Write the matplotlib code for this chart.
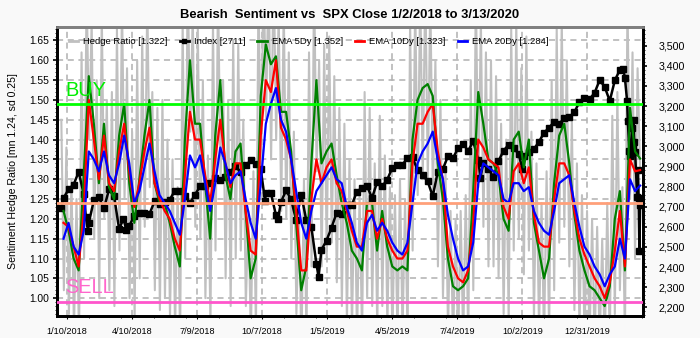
import matplotlib
matplotlib.use('Agg')
import matplotlib.pyplot as plt
from matplotlib.lines import Line2D
from matplotlib.ticker import MultipleLocator, FuncFormatter
import matplotlib.dates as mdates
import pandas as pd

plt.rcParams['font.family'] = ['Liberation Sans', 'DejaVu Sans']

# daily hedge ratio (sampled ~2x per week)
hedge_ratio = [
    1.45, 1.02, 1.38, 0.96, 1.30, 0.92, 1.25, 0.90, 1.62, 1.10,
    1.78, 1.40, 1.70, 1.15, 1.55, 1.00, 1.72, 1.20, 1.50, 1.02,
    1.52, 0.98, 1.68, 1.12, 1.75, 1.25, 1.58, 1.00, 1.42, 0.95,
    1.60, 1.05, 1.66, 1.18, 1.76, 1.28, 1.52, 1.02, 1.48, 0.97,
    1.50, 1.00, 1.40, 0.95, 1.35, 0.92, 1.28, 0.90, 1.70, 1.10,
    1.80, 1.42, 1.72, 1.18, 1.68, 1.15, 1.55, 1.00, 1.36, 0.93,
    1.70, 1.12, 1.78, 1.30, 1.55, 1.05, 1.50, 0.98, 1.65, 1.10,
    1.64, 1.12, 1.45, 0.98, 1.22, 0.90, 1.32, 0.92, 1.78, 1.30,
    1.85, 1.45, 1.82, 1.35, 1.84, 1.40, 1.72, 1.22, 1.74, 1.20,
    1.62, 1.10, 1.42, 0.96, 1.20, 0.88, 1.30, 0.90, 1.62, 1.08,
    1.80, 1.32, 1.60, 1.08, 1.64, 1.10, 1.66, 1.14, 1.56, 1.04,
    1.48, 0.98, 1.44, 0.94, 1.35, 0.92, 1.30, 0.90, 1.26, 0.90,
    1.52, 1.00, 1.48, 0.98, 1.34, 0.92, 1.46, 0.98, 1.36, 0.93,
    1.28, 0.90, 1.26, 0.90, 1.30, 0.91, 1.25, 0.90, 1.70, 1.12,
    1.76, 1.26, 1.78, 1.30, 1.80, 1.30, 1.76, 1.26, 1.60, 1.08,
    1.50, 1.00, 1.32, 0.92, 1.22, 0.88, 1.20, 0.88, 1.22, 0.89,
    1.26, 0.90, 1.55, 1.02, 1.78, 1.28, 1.70, 1.18, 1.62, 1.08,
    1.60, 1.08, 1.56, 1.05, 1.44, 0.96, 1.40, 0.94, 1.68, 1.12,
    1.70, 1.15, 1.58, 1.06, 1.66, 1.12, 1.42, 0.95, 1.34, 0.92,
    1.24, 0.89, 1.32, 0.91, 1.55, 1.02, 1.68, 1.14, 1.70, 1.18,
    1.60, 1.08, 1.45, 0.97, 1.34, 0.92, 1.26, 0.90, 1.22, 0.89,
    1.20, 0.88, 1.18, 0.88, 1.15, 0.87, 1.24, 0.88, 1.46, 0.96,
    1.52, 1.02, 1.28, 0.90, 1.75, 1.25, 1.62, 1.10, 1.58, 1.322,
]

# weekly readings of the moving averages
ema_5 = [
    1.22, 1.17, 1.10, 1.07, 1.31, 1.56, 1.44, 1.29, 1.44, 1.28,
    1.25, 1.41, 1.49, 1.29, 1.19, 1.30, 1.41, 1.50, 1.29, 1.24,
    1.24, 1.19, 1.13, 1.08, 1.40, 1.60, 1.44, 1.44, 1.29, 1.15,
    1.41, 1.55, 1.31, 1.25, 1.37, 1.39, 1.22, 1.05, 1.10, 1.51,
    1.64, 1.59, 1.61, 1.47, 1.47, 1.37, 1.19, 1.02, 1.08, 1.34,
    1.55, 1.34, 1.37, 1.39, 1.31, 1.24, 1.19, 1.12, 1.10, 1.07,
    1.24, 1.24, 1.12, 1.22, 1.13, 1.08, 1.07, 1.08, 1.07, 1.40,
    1.50, 1.53, 1.54, 1.51, 1.34, 1.25, 1.10, 1.03, 1.02, 1.03,
    1.05, 1.27, 1.52, 1.44, 1.35, 1.34, 1.31, 1.20, 1.17, 1.40,
    1.42, 1.33, 1.40, 1.19, 1.12, 1.05, 1.10, 1.29, 1.41, 1.44,
    1.34, 1.21, 1.12, 1.07, 1.03, 1.02, 1.00, 0.98, 1.03, 1.20,
    1.27, 1.07, 1.48, 1.37, 1.352,
]
ema_10 = [
    1.19, 1.18, 1.13, 1.08, 1.22, 1.50, 1.40, 1.30, 1.41, 1.29,
    1.27, 1.37, 1.44, 1.32, 1.23, 1.29, 1.37, 1.43, 1.29, 1.25,
    1.22, 1.20, 1.15, 1.12, 1.31, 1.47, 1.40, 1.40, 1.31, 1.24,
    1.35, 1.45, 1.34, 1.28, 1.34, 1.34, 1.22, 1.12, 1.11, 1.41,
    1.55, 1.52, 1.60, 1.43, 1.40, 1.35, 1.22, 1.07, 1.07, 1.25,
    1.35, 1.29, 1.33, 1.35, 1.29, 1.27, 1.22, 1.17, 1.13, 1.13,
    1.22, 1.22, 1.15, 1.20, 1.15, 1.12, 1.10, 1.10, 1.12, 1.34,
    1.44, 1.44, 1.47, 1.49, 1.37, 1.30, 1.13, 1.08, 1.05, 1.04,
    1.07, 1.19, 1.40, 1.38, 1.35, 1.34, 1.33, 1.23, 1.20, 1.32,
    1.34, 1.29, 1.33, 1.21, 1.14, 1.13, 1.13, 1.25, 1.34, 1.34,
    1.31, 1.22, 1.15, 1.11, 1.08, 1.05, 1.03, 1.00, 1.04, 1.12,
    1.22, 1.08, 1.35, 1.32, 1.323,
]
ema_20 = [
    1.15, 1.19, 1.13, 1.11, 1.17, 1.37, 1.35, 1.32, 1.37, 1.31,
    1.29, 1.34, 1.41, 1.34, 1.24, 1.27, 1.33, 1.39, 1.32, 1.26,
    1.24, 1.22, 1.19, 1.16, 1.25, 1.36, 1.33, 1.36, 1.29, 1.22,
    1.29, 1.38, 1.34, 1.29, 1.31, 1.32, 1.25, 1.19, 1.15, 1.29,
    1.44, 1.49, 1.53, 1.45, 1.42, 1.35, 1.27, 1.19, 1.15, 1.22,
    1.27, 1.29, 1.31, 1.33, 1.30, 1.29, 1.23, 1.19, 1.14, 1.12,
    1.19, 1.21, 1.17, 1.19, 1.17, 1.14, 1.12, 1.11, 1.14, 1.24,
    1.34, 1.37, 1.39, 1.42, 1.35, 1.30, 1.21, 1.15, 1.10, 1.07,
    1.08, 1.14, 1.29, 1.34, 1.33, 1.32, 1.31, 1.25, 1.24, 1.29,
    1.29, 1.27, 1.28, 1.22, 1.19, 1.17, 1.16, 1.22, 1.29, 1.30,
    1.31, 1.24, 1.18, 1.13, 1.11, 1.08, 1.06, 1.03, 1.06, 1.08,
    1.15, 1.10, 1.30, 1.27, 1.284,
]

spx_dates = [
    '2018-01-02', '2018-01-05', '2018-01-12', '2018-01-19', '2018-01-26', '2018-02-02',
    '2018-02-05', '2018-02-08', '2018-02-09', '2018-02-16', '2018-02-23', '2018-03-02',
    '2018-03-09', '2018-03-16', '2018-03-23', '2018-03-29', '2018-04-02', '2018-04-06',
    '2018-04-13', '2018-04-20', '2018-04-27', '2018-05-04', '2018-05-11', '2018-05-18',
    '2018-05-25', '2018-06-01', '2018-06-08', '2018-06-15', '2018-06-22', '2018-06-29',
    '2018-07-06', '2018-07-13', '2018-07-20', '2018-07-27', '2018-08-03', '2018-08-10',
    '2018-08-17', '2018-08-24', '2018-08-31', '2018-09-07', '2018-09-14', '2018-09-21',
    '2018-09-28', '2018-10-05', '2018-10-11', '2018-10-12', '2018-10-19', '2018-10-26',
    '2018-10-29', '2018-11-02', '2018-11-09', '2018-11-16', '2018-11-23', '2018-11-30',
    '2018-12-07', '2018-12-14', '2018-12-21', '2018-12-24', '2018-12-28', '2019-01-04',
    '2019-01-11', '2019-01-18', '2019-01-25', '2019-02-01', '2019-02-08', '2019-02-15',
    '2019-02-22', '2019-03-01', '2019-03-08', '2019-03-15', '2019-03-22', '2019-03-29',
    '2019-04-05', '2019-04-12', '2019-04-18', '2019-04-26', '2019-05-03', '2019-05-10',
    '2019-05-17', '2019-05-24', '2019-05-31', '2019-06-07', '2019-06-14', '2019-06-21',
    '2019-06-28', '2019-07-05', '2019-07-12', '2019-07-19', '2019-07-26', '2019-08-02',
    '2019-08-05', '2019-08-09', '2019-08-16', '2019-08-23', '2019-08-30', '2019-09-06',
    '2019-09-13', '2019-09-20', '2019-09-27', '2019-10-02', '2019-10-04', '2019-10-11',
    '2019-10-18', '2019-10-25', '2019-11-01', '2019-11-08', '2019-11-15', '2019-11-22',
    '2019-11-29', '2019-12-06', '2019-12-13', '2019-12-20', '2019-12-27', '2020-01-03',
    '2020-01-10', '2020-01-17', '2020-01-24', '2020-01-31', '2020-02-07', '2020-02-14',
    '2020-02-19', '2020-02-21', '2020-02-24', '2020-02-25', '2020-02-27', '2020-02-28',
    '2020-03-02', '2020-03-03', '2020-03-04', '2020-03-05', '2020-03-06', '2020-03-09',
    '2020-03-10', '2020-03-11', '2020-03-12', '2020-03-13',
]
spx_close = [
    2695.81, 2743.15, 2786.24, 2810.30, 2872.87, 2762.13,
    2648.94, 2581.00, 2619.55, 2732.22, 2747.30, 2691.25,
    2786.57, 2752.01, 2588.26, 2640.87, 2581.88, 2604.47,
    2656.30, 2670.14, 2669.91, 2663.42, 2727.72, 2712.97,
    2721.33, 2734.62, 2779.03, 2779.66, 2754.88, 2718.37,
    2759.82, 2801.31, 2801.83, 2818.82, 2840.35, 2833.28,
    2850.13, 2874.69, 2901.52, 2871.68, 2904.98, 2929.67,
    2913.98, 2885.57, 2728.37, 2767.13, 2767.78, 2658.69,
    2641.25, 2723.06, 2781.01, 2736.27, 2632.56, 2760.17,
    2633.08, 2599.95, 2416.62, 2351.10, 2485.74, 2531.94,
    2596.26, 2670.71, 2664.76, 2706.53, 2707.88, 2775.60,
    2792.67, 2803.69, 2743.07, 2822.48, 2800.71, 2834.40,
    2892.74, 2907.41, 2905.03, 2939.88, 2945.64, 2881.40,
    2859.53, 2826.06, 2752.06, 2873.34, 2886.98, 2950.46,
    2941.76, 2990.41, 3013.77, 2976.61, 3025.86, 2932.05,
    2844.74, 2918.65, 2888.68, 2847.11, 2926.46, 2978.71,
    3007.39, 2992.07, 2961.79, 2887.61, 2952.01, 2970.27,
    2986.20, 3022.55, 3066.91, 3093.08, 3120.46, 3110.29,
    3140.98, 3145.91, 3168.79, 3221.22, 3240.02, 3234.85,
    3265.35, 3329.62, 3295.47, 3225.52, 3327.71, 3380.16,
    3386.15, 3337.75, 3225.89, 3128.21, 2978.76, 2954.22,
    3090.23, 3003.37, 3130.12, 3023.94, 2972.37, 2746.56,
    2882.23, 2741.38, 2480.64, 2711.02,
]

ratio_mean = 1.24
ratio_sd = 0.25
tick_dates = ['2018-01-10', '2018-04-10', '2018-07-09', '2018-10-07', '2019-01-05',
              '2019-04-05', '2019-07-04', '2019-10-02', '2019-12-31']

ratio_days = pd.date_range('2018-01-02', '2020-03-13', periods=len(hedge_ratio))
ema_days = pd.date_range('2018-01-05', '2020-03-13', periods=len(ema_5))
spx_days = pd.to_datetime(spx_dates)

fig = plt.figure(figsize=(7, 3.38), dpi=100, facecolor='#f9f9f9')
ax = fig.add_axes([57 / 700, 22 / 338, 586 / 700, 289 / 338])
ax.set_facecolor('white')
ax2 = ax.twinx()
ax3 = ax.twinx()

ylim_ratio = (0.955, 1.684)
ax.set_ylim(*ylim_ratio)
ax3.set_ylim(*ylim_ratio)
ax2.set_ylim(2157, 3593)
xlim = (pd.Timestamp('2017-12-27'), pd.Timestamp('2020-03-17'))
for a in (ax, ax2, ax3):
    a.set_xlim(*xlim)

# raw ratio at the bottom
ax.plot(ratio_days, hedge_ratio, color='#c0c0c0', lw=1.5)

# index on the right scale
ax2.plot(spx_days, spx_close, color='black', lw=1.8, marker='s', ms=3.8)

# moving averages on top
ax3.plot(ema_days, ema_5, color='#008000', lw=1.6)
ax3.plot(ema_days, ema_10, color='#ff0000', lw=1.6)
ax3.plot(ema_days, ema_20, color='#0000ff', lw=1.6)
ax3.axhline(ratio_mean + ratio_sd, color='#00ff00', lw=2)
ax3.axhline(ratio_mean, color='#ffa07a', lw=2)
ax3.axhline(ratio_mean - ratio_sd, color='#ff55cc', lw=2)
ax3.text(0.014, 1.51, 'BUY', color='#00ee00', fontsize=14.4,
         transform=ax3.get_yaxis_transform(), va='baseline')
ax3.text(0.014, 1.013, 'SELL', color='#ff66cc', fontsize=14.4,
         transform=ax3.get_yaxis_transform(), va='baseline')
ax3.axis('off')

# ticks and grid
ticks = pd.to_datetime(tick_dates)
ax.set_xticks(ticks)
ax.set_xticklabels([f'{d.month}/{d.day}/{d.year}' for d in ticks], fontsize=6.6)
ax.xaxis.set_minor_locator(mdates.DayLocator(interval=45))
ax.yaxis.set_major_locator(MultipleLocator(0.05))
ax.yaxis.set_minor_locator(MultipleLocator(0.01))
ax.yaxis.set_major_formatter(FuncFormatter(lambda v, p: f'{v:.2f}'))
ax.tick_params(axis='y', labelsize=7.4, length=3, width=1.2, pad=3)
ax.tick_params(axis='x', length=2, pad=6)
ax.tick_params(which='minor', length=1.5)
ax.grid(True, ls=(0, (4, 3)), color='#b0b0b0', lw=1.1)
ax.set_axisbelow(True)

ax2.yaxis.set_major_locator(MultipleLocator(100))
ax2.yaxis.set_minor_locator(MultipleLocator(20))
ax2.yaxis.set_major_formatter(FuncFormatter(lambda v, p: f'{v:,.0f}'))
ax2.tick_params(axis='y', labelsize=7.7, length=3, width=1.2, pad=8)
ax2.tick_params(which='minor', length=1.5)

for a in (ax, ax2):
    for side in ('left', 'bottom', 'right'):
        a.spines[side].set_color('black')
        a.spines[side].set_linewidth(2)
    a.spines['top'].set_color('#808080')
    a.spines['top'].set_linewidth(2)

ax.set_ylabel('Sentiment Hedge Ratio [mn 1.24, sd 0.25]', fontsize=7.6)
ax.yaxis.set_label_coords(-0.067, 0.5)

fig.text(350 / 700, 1 - 15 / 338, 'Bearish  Sentiment vs  SPX Close 1/2/2018 to 3/13/2020',
         ha='center', va='center', fontsize=9.4, fontweight='bold')

handles = [
    Line2D([], [], color='#c0c0c0', lw=2),
    Line2D([], [], color='black', lw=2, marker='s', ms=3),
    Line2D([], [], color='#008000', lw=2),
    Line2D([], [], color='#ff0000', lw=2),
    Line2D([], [], color='#0000ff', lw=2),
]
labels = [
    f'Hedge Ratio [{hedge_ratio[-1]:.3f}]',
    f'Index [{spx_close[-1]:.0f}]',
    f'EMA 5Dy [{ema_5[-1]:.3f}]',
    f'EMA 10Dy [{ema_10[-1]:.3f}]',
    f'EMA 20Dy [{ema_20[-1]:.3f}]',
]
ax3.legend(handles, labels, loc='center left', bbox_to_anchor=(0.02, (311 - 42 + 5) / 289),
           ncol=5, frameon=False, fontsize=6.8, handlelength=1.0, handletextpad=0.5,
           columnspacing=1.3, borderpad=0, borderaxespad=0)

fig.savefig('out.png', dpi=100, facecolor=fig.get_facecolor())
